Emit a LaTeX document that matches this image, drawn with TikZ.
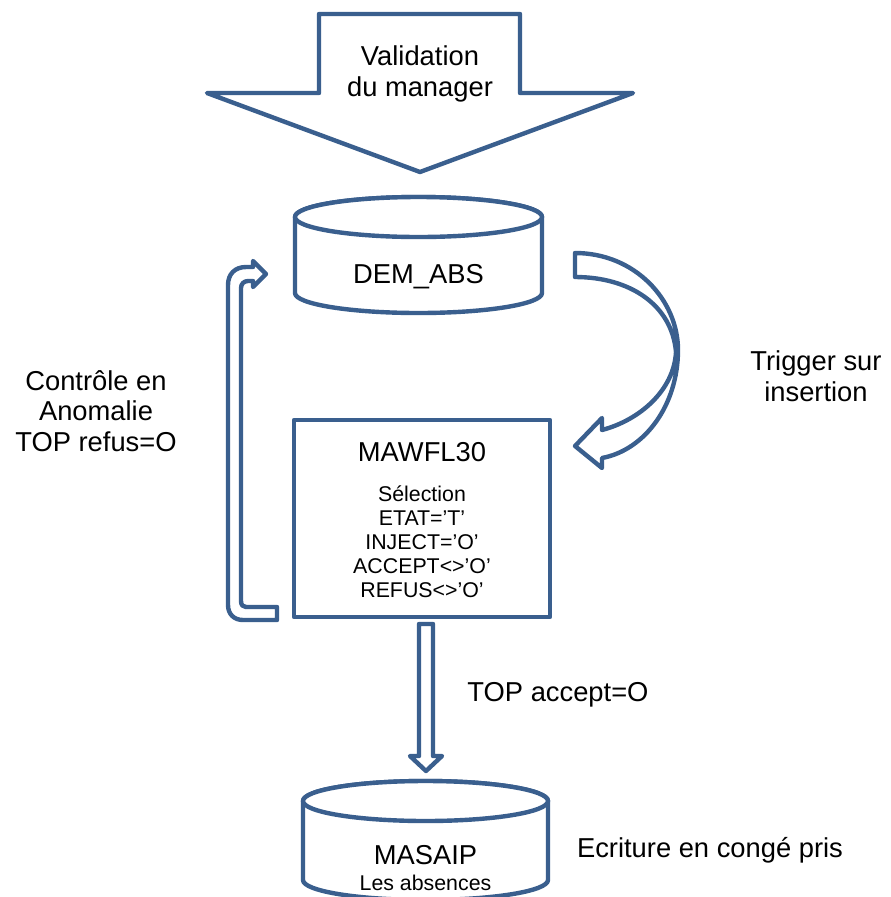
\documentclass[tikz,border=0pt]{standalone}
\usepackage{fontspec}
\setmainfont{Liberation Sans}
\definecolor{shapeblue}{HTML}{3A5F8E}
\tikzset{
  outl/.style={draw=shapeblue, line width=3.3pt, line join=round, fill=white},
  bigtxt/.style={font=\fontsize{20.5}{23}\selectfont, align=center, inner sep=0pt},
  smalltxt/.style={font=\fontsize{16}{18}\selectfont, align=center, inner sep=0pt},
}
\begin{document}
\begin{tikzpicture}[x=0.75pt,y=-0.75pt]
\useasboundingbox (0,0) rectangle (890,897);
% top block arrow
\draw[outl] (319,14) -- (520,14) -- (520,93) -- (633,93) -- (420,172) -- (207,93) -- (319,93) -- cycle;
\node[bigtxt] (valid) at (420,74) {Validation\\du manager};
% DEM_ABS cylinder
\draw[outl] (295,217) -- (295,293) arc[start angle=180,end angle=0,x radius=123.5,y radius=20] -- (542,217) arc[start angle=0,end angle=-180,x radius=123.5,y radius=20];
\draw[outl] (418.5,217) ellipse[x radius=123.5,y radius=20];
\node[bigtxt] (dem) at (418.5,277) {DEM\_ABS};
% MAWFL30 box
\draw[outl] (294,420) rectangle (550,617);
\node[bigtxt] (mawfl) at (422,452) {MAWFL30};
\node[smalltxt] (sel) at (422,541.5) {Sélection\\ETAT=’T’\\INJECT=’O’\\ACCEPT<>’O’\\REFUS<>’O’};
% MASAIP cylinder
\draw[outl] (303,801) -- (303,880) arc[start angle=180,end angle=0,x radius=122.5,y radius=20] -- (548,801) arc[start angle=0,end angle=-180,x radius=122.5,y radius=20];
\draw[outl] (425.5,801) ellipse[x radius=122.5,y radius=20];
\node[bigtxt] (masaip) at (425.5,855) {MASAIP};
\node[smalltxt] (abs) at (425.5,883) {Les absences};
% curved arrow (trigger)
\draw[outl] (575,253) .. controls (635,253) and (678,300) .. (678,350)
  .. controls (678,405) and (645,450) .. (602,458) -- (602,468) -- (575,446) -- (602,418) -- (602,430)
  .. controls (640,420) and (674,390) .. (676,352)
  .. controls (672,305) and (630,277) .. (575,277) -- cycle;
% left U-turn arrow
\draw[outl] (277,620) -- (243,620) .. controls (234,620) and (228,614) .. (228,605) -- (228,285)
  .. controls (228,274) and (235,267) .. (246,267) -- (253,267) -- (253,261) -- (266,274) -- (253,287) -- (253,281)
  -- (248,281) .. controls (244,281) and (241,284) .. (241,288) -- (241,601)
  .. controls (241,605) and (243,607) .. (246,607) -- (277,607) -- cycle;
% bottom arrow
\draw[outl] (419,624) -- (433,624) -- (433,756) -- (442,756) -- (426,771) -- (410,756) -- (419,756) -- cycle;
% labels
\node[bigtxt, align=center] (ctrl) at (96,411) {Contrôle en\\Anomalie\\TOP refus=O};
\node[bigtxt] (trig) at (816,376) {Trigger sur\\insertion};
\node[bigtxt] (acc) at (558,695) {TOP accept=O};
\node[bigtxt] (ecr) at (710,850) {Ecriture en congé pris};
\end{tikzpicture}
\end{document}
